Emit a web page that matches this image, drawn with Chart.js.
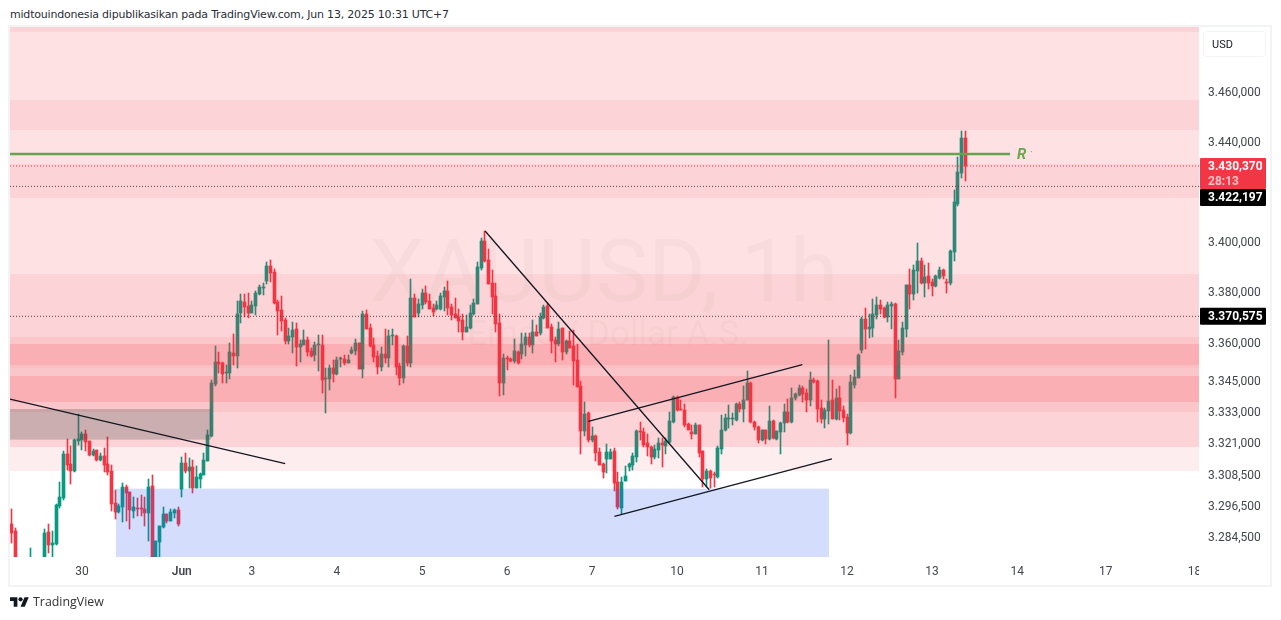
<!DOCTYPE html>
<html><head><meta charset="utf-8">
<script src="https://cdn.jsdelivr.net/npm/chart.js@4"></script>
<style>
html,body{margin:0;padding:0;background:#fff;width:1281px;height:620px;overflow:hidden}
#head{position:absolute;left:10px;top:7px;font:11px/16px "DejaVu Sans",sans-serif;letter-spacing:-0.2px;color:#2a2e39;white-space:nowrap}
#frame{position:absolute;left:8px;top:25px;width:1260px;height:558px;border:2px solid #f2f3f5}
#usd{position:absolute;left:1203px;top:31px;width:61px;height:24px;border:1px solid #f0f3fa;border-radius:4px;font:11px/26px Roboto,sans-serif;color:#131722;text-indent:8px}
#foot{position:absolute;left:10px;top:594px;display:flex;align-items:center;gap:4px;font:12.4px/16px "Open Sans",sans-serif;color:#333}
canvas{position:absolute;left:0;top:0}
</style></head><body>
<div id="head">midtouindonesia dipublikasikan pada TradingView.com, Jun 13, 2025 10:31 UTC+7</div>
<div id="frame"></div>
<canvas id="c" width="1281" height="620"></canvas>
<div id="usd">USD</div>
<div id="foot"><svg width="19" height="15" viewBox="0 0 36 28"><path fill="#131722" d="M14 22H7V11H0V4h14v18zM28 22h-8l7.5-18h8L28 22z"/><circle fill="#131722" cx="20" cy="8" r="4"/></svg><span>TradingView</span></div>
<script>
const opens=[3289.7,3287,3272,3270,3272,3273,3275,3273,3274,3274,
3286.6,3281.6,3281.9,3296.6,3299.7,3316.7,3312.9,3310.1,3321.7,3322.1,
3324.4,3321.7,3316.3,3318.3,3314.4,3315.9,3312.9,3310.1,3297.8,3294.3,
3296.2,3304,3302,3294.7,3295.9,3295.9,3295.5,3293.9,3304.4,3272,
3282.7,3288.5,3293.5,3290.8,3293.9,3295.1,3303.2,3313.2,3310.1,3311.7,
3303.6,3307.1,3308.6,3314,3323.7,3343.9,3352.7,3352.3,3348.3,3348.3,
3356.3,3355.1,3371.8,3376.1,3374.5,3371.8,3374.5,3379.3,3381.8,3384.5,
3390.4,3388,3376.1,3373,3369,3361,3362.6,3365.4,3358.6,3359.4,
3361.4,3357,3355.5,3359.1,3359.4,3345.9,3345.9,3350.3,3347.9,3353.6,
3353.9,3352.3,3356.3,3357.1,3360.2,3349.9,3371.4,3365.8,3359.4,3355.1,
3350.7,3355.9,3354.3,3362.7,3363,3351.1,3346.3,3359,3352.3,3377.7,
3371.8,3374.9,3379.7,3376.5,3373.7,3373.3,3373.3,3378.1,3380.5,3374.1,
3371.4,3370.2,3369,3364.2,3365.8,3371.4,3375.3,3389.7,3400.4,3392.9,
3383.7,3378.6,3367.8,3344.4,3354.3,3353.9,3353.1,3356.7,3355.9,3359.1,
3362.3,3359.1,3364.3,3363.9,3369.8,3374.6,3366.2,3361.1,3359.5,3365.8,
3356.7,3360.7,3358.7,3353.5,3343.2,3325.7,3332.8,3322.2,3323.8,3317.6,
3312.8,3314.8,3314.8,3318,3305.9,3296,3306.1,3311.5,3312.3,3315.4,
3325.3,3325.1,3320.8,3319.6,3315.4,3318.1,3320.8,3319.7,3321.2,3329.3,
3338.6,3334.4,3334,3328.2,3325.1,3324.3,3327.8,3317.7,3306.9,3310.3,
3308.8,3308,3318.5,3325.9,3330.2,3330.4,3330.1,3336.3,3334.4,3337.9,
3344.5,3329.3,3327.4,3322,3325.9,3322.4,3329.7,3322.7,3325.1,3328.6,
3333.2,3329,3338.6,3339.8,3342.5,3340.6,3337.9,3345.6,3345.2,3334.8,
3330.5,3333.6,3337.9,3330.5,3338.6,3334,3331.3,3324.7,3343.6,3346.3,
3357.5,3369.4,3365.4,3365.8,3371,3375,3373.8,3370.2,3374.6,3375.4,
3345.9,3356.7,3365.4,3382.9,3379.3,3388.5,3392.5,3383.7,3386.5,3384.1,
3382.5,3385.7,3388.9,3384.1,3383.7,3396,3415.1,3427.4,3441.7];
const highs=[3295.5,3288,3275,3274,3275,3280.4,3276,3276,3276,3287.7,
3289.7,3287.1,3297.2,3305.9,3318,3322.5,3319.7,3322.5,3332.2,3325.1,
3326,3321.7,3318.7,3318.4,3317.1,3319,3323.3,3312.5,3302.8,3297.4,
3305.5,3304.7,3302.1,3300.1,3299.7,3300.9,3300.1,3307.1,3308.6,3283.2,
3289,3296.2,3293.6,3295.5,3295.5,3296.2,3315.6,3317.1,3315.2,3314.4,
3312.1,3309.4,3317.1,3326,3345.5,3359,3356.7,3352.7,3351.5,3360.1,
3363.8,3376.5,3379.3,3379.3,3379.7,3376.5,3380.5,3382.9,3383.7,3392,
3392.8,3389.2,3376.9,3378.5,3369.8,3365.8,3368.2,3367.8,3361.4,3365,
3362.6,3358.2,3360.6,3363.4,3363.4,3350.3,3351.5,3353.5,3354.7,3354.5,
3355.5,3355.5,3358.6,3361.8,3360.2,3372.6,3373,3367.4,3362.2,3357.1,
3358.6,3365.4,3365,3365.4,3363.4,3352.3,3359.4,3363,3385.3,3379.3,
3377.3,3381.3,3382.5,3379.3,3375.3,3376.5,3379.7,3382.1,3384.5,3375.5,
3377.7,3373.3,3371.4,3371,3374.9,3377.3,3392,3401.6,3404.4,3397.2,
3388.9,3383.7,3371.4,3355.9,3355.1,3354,3361.5,3357.1,3363.9,3363.9,
3363.9,3369,3367,3371.8,3375,3375.8,3367.4,3362.5,3368.2,3365.9,
3361.1,3364.7,3365.1,3359.5,3345.2,3336.8,3332.9,3327.2,3324.2,3319.2,
3313.2,3320.7,3318.6,3318.9,3309.7,3307.8,3312,3313.1,3317.3,3325.9,
3329.3,3327,3324.3,3319.7,3320.3,3323.1,3323.1,3323.1,3333.2,3339.3,
3339.3,3337.9,3336.3,3328.6,3327.8,3328.6,3327.9,3317.8,3311.1,3310.7,
3309.6,3320,3332,3332.4,3335.9,3332.8,3336.7,3337.1,3343.3,3349.2,
3344.6,3329.4,3327.5,3326.2,3326.2,3335.5,3330.1,3325.6,3329,3336.3,
3338.3,3342.5,3340.6,3343.7,3343.3,3342.1,3348.8,3346.4,3345.6,3337.9,
3334.8,3361.1,3345.6,3342.1,3343.3,3335.5,3332.4,3347.5,3349.5,3355.9,
3370.2,3373.8,3371.4,3377.3,3378.1,3377,3374.2,3376.2,3376.2,3375.8,
3361.4,3368.2,3382.9,3389.3,3390.9,3399.6,3393.6,3390.9,3391.7,3385.3,
3386.9,3390.1,3389.3,3385.3,3396.8,3420.7,3433.8,3444.5,3444.5];
const lows=[3282.3,3270,3268,3268,3270,3271,3271,3271,3270,3272,
3278.5,3276,3281.5,3295.9,3298.9,3310.5,3305.1,3309.9,3320.2,3318.3,
3317.9,3315.9,3315.8,3314,3314,3309.8,3308.6,3294.7,3291.6,3293.9,
3290.4,3290.8,3287.7,3292,3292.8,3292.8,3288.9,3283.2,3270,3270,
3273,3288.1,3290,3290.7,3292,3288.9,3300.1,3309.4,3303.6,3301.7,
3303.5,3303.6,3308.5,3314,3323.5,3343.1,3348.2,3344.3,3344.3,3345.9,
3351.5,3350.3,3367.8,3370.2,3369.8,3371.8,3371,3378.9,3378.9,3383.3,
3384.1,3375.3,3363.4,3364.6,3359.8,3359.8,3356.3,3351.1,3352.7,3359.4,
3355.1,3354.7,3353.1,3349.1,3340.4,3332.8,3341.6,3344.7,3347.5,3350.8,
3351.5,3352.1,3355.9,3355.5,3349.9,3346.3,3365.4,3358.6,3352.7,3347.9,
3349.1,3352.3,3350.7,3359.4,3347.5,3343.5,3344.3,3351.1,3350.7,3370.2,
3370.2,3373.3,3375.3,3373.3,3370.6,3373,3373,3372.6,3371,3369,
3369.8,3364.2,3361.4,3364.2,3365.4,3371,3375.3,3388.9,3392.1,3383.3,
3371.4,3364.3,3339.3,3339.6,3349.6,3352.5,3352.3,3351.9,3353.9,3355.1,
3358.5,3356.3,3362.7,3363.1,3369.4,3365.8,3356.3,3352.7,3358.8,3353.5,
3355.9,3358.3,3343.6,3342.8,3316.6,3323.7,3321.5,3321.5,3314,3312.4,
3307.5,3309.3,3314.6,3302.4,3295.5,3293.6,3306.1,3310,3310.7,3313.8,
3322,3319.3,3315.8,3313,3314.6,3315.1,3311.5,3316.9,3320.8,3328.9,
3333.6,3333.7,3327.4,3325.9,3322.4,3324.3,3315.4,3303.8,3303.8,3303.4,
3303.8,3307.6,3316.7,3325.5,3327,3327.8,3329.7,3333.2,3329.3,3337.9,
3328.9,3326.2,3320.8,3321.6,3320.6,3322.3,3322.4,3322,3316.6,3325.1,
3328.6,3328.6,3337.9,3339.4,3337.1,3333.2,3335.5,3344.5,3329,3328.6,
3327,3328.2,3330.4,3330.1,3330.1,3329,3320.4,3324.6,3342.4,3346.3,
3356.3,3357.9,3362.2,3362.6,3369.4,3371.4,3369.8,3368.2,3365.4,3338.5,
3345.9,3355.5,3362.6,3373.4,3377,3379.7,3383.3,3378.1,3381.3,3378.5,
3382.1,3385.3,3385.3,3379.7,3382.9,3392.5,3414.3,3425.4,3424.3];
const closes=[3286.2,3272,3270,3272,3273,3275,3273,3274,3272,3286.4,
3281.6,3282.3,3297,3300.1,3316.7,3312.5,3310.1,3322.1,3322.5,3324.4,
3321.4,3316.3,3317.9,3314.4,3315.9,3312.5,3309.8,3297.4,3294.3,3296.6,
3304,3301.7,3295.1,3296.2,3295.6,3295.6,3293.9,3304,3272,3283.1,
3288.9,3293.5,3290.8,3294.3,3295.1,3289.7,3313.2,3310.1,3311.7,3303.6,
3307.8,3309,3314.4,3324.1,3344.4,3352.7,3351.9,3347.9,3348.7,3356.7,
3355.1,3371.4,3376.5,3374.1,3371.8,3374.9,3379.7,3382.1,3382.1,3390.4,
3387.7,3375.7,3372.6,3368.6,3361,3363,3365,3358.6,3359.8,3361.4,
3356.7,3355.1,3359.4,3359.4,3345.5,3346.3,3350.3,3347.9,3353.5,3353.9,
3352.3,3353.5,3357.5,3360.2,3349.9,3371.4,3365.4,3359,3354.7,3350.7,
3355.9,3354.3,3363,3363,3350.7,3346.3,3359,3352.3,3377.7,3370.2,
3375.3,3379.7,3376.1,3373.3,3372.2,3374.9,3378.5,3380.5,3373.7,3371,
3369.8,3368.6,3364.2,3366.2,3371.8,3375.7,3390,3400.4,3392.5,3383.3,
3378.2,3367.4,3344.4,3354.3,3353.9,3353.1,3357.1,3352.3,3359.5,3362.3,
3359.1,3364.3,3362.7,3370.2,3374.2,3365.8,3360.7,3359.5,3365.4,3356.7,
3360.7,3358.3,3353.1,3342.8,3325.7,3332.4,3322.2,3323.8,3317.3,3312.4,
3309.7,3317.6,3317.6,3305.5,3296.2,3305.9,3308.3,3312.7,3315.8,3325.5,
3325.1,3320.4,3319.3,3315.4,3318.5,3320.8,3320.2,3321.6,3329.7,3339,
3334,3333.7,3327.8,3326.2,3324.4,3327.8,3317.3,3306.9,3310.3,3307.6,
3308.4,3318.9,3326.2,3330.9,3330.8,3330.8,3336.3,3334.4,3337.9,3344.5,
3329,3327.4,3322,3325.9,3322.4,3329.7,3323.1,3325.5,3328.9,3333.2,
3329,3338.6,3340.2,3342.5,3340.2,3337.9,3345.6,3344.8,3334.4,3330.5,
3334,3337.5,3330.5,3338.6,3333.6,3330.9,3324.7,3344.8,3346.7,3355.5,
3369.4,3365.4,3366.2,3371.4,3375,3373.4,3370.2,3375,3375.4,3345.9,
3357.1,3365.8,3382.9,3379.3,3388.9,3392.5,3383.7,3386.1,3383.7,3382.5,
3386.5,3388.9,3386.5,3383.8,3396.4,3415.9,3427.8,3441.7,3430.37];

const yTickValues=[3460,3440,3400,3380,3360,3345,3333,3321,3308.5,3296.5,3284.5];
const yTickLabels=["3.460,000","3.440,000","3.400,000","3.380,000","3.360,000","3.345,000","3.333,000","3.321,000","3.308,500","3.296,500","3.284,500"];
const xTickValues=[19,46,65,88,111,134,157,180,203,226,249,272,296,320];
const xTickLabels=["30","Jun","3","4","5","6","7","10","11","12","13","14","17","18"];

const xMin=-0.46,xMax=321.2,yMin=3277,yMax=3486.6;
const trend1X=[-0.46,74],trend1Y=[3338.1,3313];
const trend2X=[128.06,188.7],trend2Y=[3404.4,3302.9];
const trend3X=[156,213.9],trend3Y=[3329.4,3351.6];
const trend4X=[163.05,221.9],trend4Y=[3292.6,3314.8];
const resistanceX=[-0.46,270.1],resistanceY=[3435.2,3435.2];
const lastPrice=3430.37,markPrice=3422.197,pivotPrice=3370.575;

const RED='#F23645',GREEN='#089981';
const pink='242,54,69';
// [upper price, lower price, alpha]
const zonesPink=[
 [yMax,3319.6,.15],[3319.6,3310.3,.09],
 [yMax,3484.7,.076],[3456.9,3444.9,.076],[3431,3417.5,.076],[3387.3,3319.6,.076],
 [3362.6,3333,.09],
 [3359.5,3351.5,.16],[3347.1,3336.9,.16],[3351.5,3350.3,.06]
];
const zoneBlue=[3303.3,yMin,28.2,221.1];
const zoneGray=[3334.2,3322.3,xMin,53.9];

const bars=opens.map((_,i)=>i);
const line=(xs,ys,color,width,dash)=>({type:'line',data:xs.map((x,i)=>({x,y:ys[i]})),borderColor:color,borderWidth:width,borderDash:dash||[],pointRadius:0,tension:0,order:0,fill:false});
const isUp=i=>closes[i]>=opens[i];

const chrome={
 id:'chrome',
 beforeDatasetsDraw(ch){
  const c=ch.ctx;
  // snap candle elements to whole device pixels
  [1,2].forEach(k=>ch.getDatasetMeta(k).data.forEach(el=>{
   el.x=Math.floor(el.x)+0.5;
   const t=Math.round(el.y),b=Math.round(el.base);
   el.y=t;el.base=(b===t)?t+1:b;
   el.height=el.base-el.y;
  }));
  c.save();c.textAlign='center';c.textBaseline='middle';
  c.fillStyle='rgba(120,123,134,0.05)';
  c.font='88px Roboto';c.fillText('XAUUSD, 1h',604,279);
  c.font='35px Roboto';c.fillText('Emas / Dollar A.S.',608,336);
  c.restore();
 },
 afterDatasetDraw(ch,args){
  if(args.index!==1)return;
  const c=ch.ctx,a=ch.chartArea,x=ch.scales.x,y=ch.scales.y;
  c.save();c.beginPath();c.rect(a.left,a.top,a.width,a.height);c.clip();
  zonesPink.forEach(z=>{const t=Math.round(y.getPixelForValue(z[0])),b=Math.round(y.getPixelForValue(z[1]));
   c.fillStyle=`rgba(${pink},${z[2]})`;c.fillRect(a.left,t,a.width,b-t);});
  let t=y.getPixelForValue(zoneBlue[0]),b=y.getPixelForValue(zoneBlue[1]),l=x.getPixelForValue(zoneBlue[2]),r=x.getPixelForValue(zoneBlue[3]);
  c.fillStyle='rgba(40,90,240,0.2)';c.fillRect(l,t,r-l,b-t);
  t=y.getPixelForValue(zoneGray[0]);b=y.getPixelForValue(zoneGray[1]);l=x.getPixelForValue(zoneGray[2]);r=x.getPixelForValue(zoneGray[3]);
  c.fillStyle='rgba(70,70,70,0.27)';c.fillRect(l,t,r-l,b-t);
  c.restore();
 },
 afterDraw(ch){
  const c=ch.ctx,a=ch.chartArea,x=ch.scales.x,y=ch.scales.y;
  c.save();
  c.fillStyle='#fff';c.fillRect(a.right,a.bottom+1,66,25);
  const L=a.right+1,W=66;
  const box=(t,h,col)=>{c.fillStyle=col;c.beginPath();c.roundRect(L,t,W,h,1);c.fill();};
  const yl=y.getPixelForValue(lastPrice);
  box(yl-8,31,RED);
  box(yl+23,17,'#000');
  const yp=y.getPixelForValue(pivotPrice);
  box(yp-8.5,17,'#000');
  c.textAlign='left';c.textBaseline='middle';
  c.font='bold 12px Roboto';c.fillStyle='#fff';
  c.fillText('3.430,370',L+8,yl+1);
  c.fillText('3.422,197',L+8,yl+32);
  c.fillText('3.370,575',L+8,yp+1);
  c.font='bold 12px Roboto';c.fillStyle='#ffc2c7';
  c.fillText('28:13',L+8,yl+16);
  c.fillStyle='#6aa84f';c.font='italic bold 15px Roboto';
  const rx=x.getPixelForValue(resistanceX[1]),ry=y.getPixelForValue(resistanceY[0]);
  c.fillText('R',rx+7,ry+1.5);
  c.font='10px Roboto';c.fillText('·',rx+20,ry);
  c.restore();
 }
};

new Chart(document.getElementById('c'),{
 type:'bar',
 data:{datasets:[
  line(trend1X,trend1Y,'#131722',1.3),
  {label:'body',data:bars.map(i=>({x:i,y:[Math.min(opens[i],closes[i]),Math.max(opens[i],closes[i])]})),
   backgroundColor:bars.map(i=>isUp(i)?GREEN:RED),barThickness:3,minBarLength:1,order:2},
  {label:'wick',data:bars.map(i=>({x:i,y:[lows[i],highs[i]]})),
   backgroundColor:bars.map(i=>isUp(i)?GREEN:RED),barThickness:1,order:3},
  line(trend2X,trend2Y,'#131722',1.3),
  line(trend3X,trend3Y,'#131722',1.3),
  line(trend4X,trend4Y,'#131722',1.3),
  line(resistanceX,resistanceY,'#66a24f',2.4),
  line([xMin,xMax],[lastPrice,lastPrice],RED,1,[1,2]),
  line([xMin,xMax],[markPrice,markPrice],'#6b3a3d',1,[1,2]),
  line([xMin,xMax],[pivotPrice,pivotPrice],'#6b3a3d',1,[1,2])
 ]},
 options:{
  responsive:false,animation:false,devicePixelRatio:1,
  datasets:{bar:{grouped:false}},
  layout:{autoPadding:false,padding:{left:10,top:27,right:14,bottom:37}},
  plugins:{legend:{display:false},tooltip:{enabled:false}},
  events:[],
  scales:{
   x:{type:'linear',min:xMin,max:xMax,offset:false,
    grid:{display:false,drawTicks:false},border:{display:false},
    afterBuildTicks:s=>{s.ticks=xTickValues.map(v=>({value:v}));},
    afterFit:s=>{s.height=26;},
    ticks:{autoSkip:false,maxRotation:0,padding:8,color:'#42464f',
     font:c=>({family:'Roboto',size:12,weight:(c.tick&&c.tick.value===46)?'600':'400'}),
     callback:v=>xTickLabels[xTickValues.indexOf(v)]}},
   y:{type:'logarithmic',position:'right',min:yMin,max:yMax,
    grid:{display:false,drawTicks:false},border:{display:false},
    afterBuildTicks:s=>{s.ticks=yTickValues.map(v=>({value:v}));},
    afterFit:s=>{s.width=68;},
    ticks:{autoSkip:false,padding:9,labelOffset:1,color:'#42464f',font:{family:'Roboto',size:12},
     callback:v=>yTickLabels[yTickValues.indexOf(v)]}}
  }
 },
 plugins:[chrome]
});
</script>
</body></html>
